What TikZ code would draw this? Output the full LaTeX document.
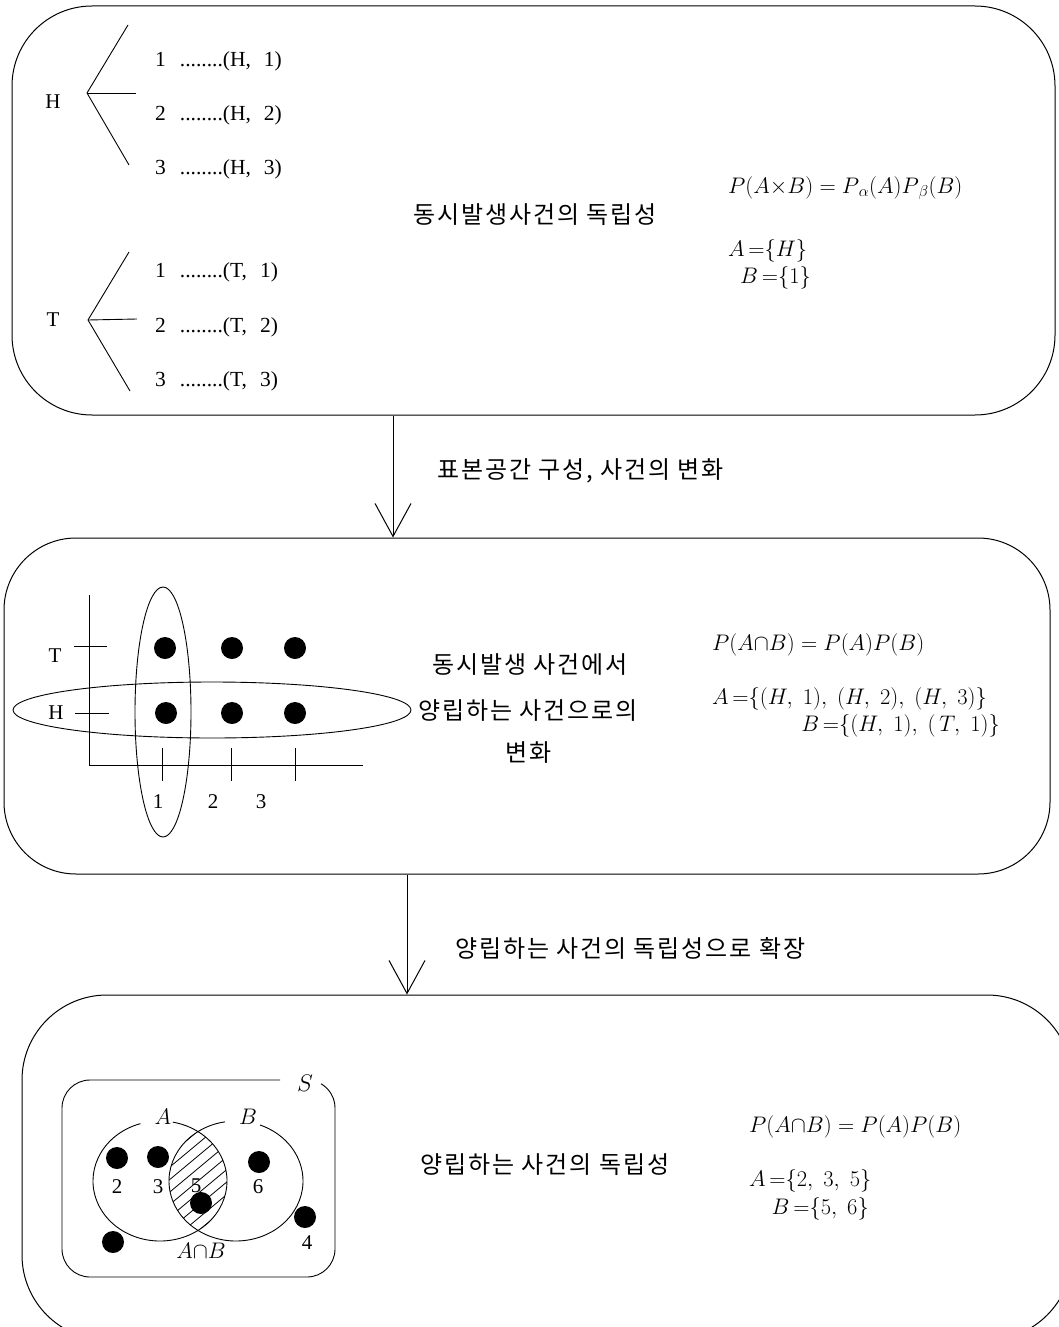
\documentclass[tikz,border=0pt]{standalone}
\usepackage{fix-cm}
\usepackage{fontspec}
\setmainfont{Liberation Serif}
\newfontfamily\kr[LetterSpace=8]{Noto Sans CJK KR}
\usetikzlibrary{arrows.meta}
\begin{document}
\begin{tikzpicture}[x=1pt,y=1pt,
  every node/.style={font=\fontsize{20}{24}\selectfont, inner sep=0pt},
  ko/.style={font=\kr\fontsize{24}{29}\selectfont},
  mth/.style={font=\fontsize{22.5}{26}\selectfont},
  lbl/.style={font=\fontsize{21}{25}\selectfont},
  tree/.style={font=\fontsize{21.5}{25}\selectfont},
  panel/.style={draw, line width=1pt},
  ln/.style={line width=0.9pt},
  arr/.style={line width=1pt, -{Straight Barb[length=33pt,width=36pt,line width=1pt]}}]
\useasboundingbox (0,0) rectangle (1059,-1327);

% ---------- panels ----------
\node[panel, minimum width=1043pt, minimum height=409pt, rounded corners=80pt] (box1) at (533.5,-210.5) {};
\node[panel, minimum width=1046pt, minimum height=336pt, rounded corners=72pt] (box2) at (527,-706) {};
\node[panel, minimum width=1050pt, minimum height=345pt, rounded corners=85pt] (box3) at (547,-1167.5) {};

% ---------- arrows ----------
\coordinate (ax1) at (393,0);
\coordinate (ax2) at (407,0);
\draw[arr] (box1.south -| ax1) -- (box2.north -| ax1);
\draw[arr] (box2.south -| ax2) -- (box3.north -| ax2);
\node[ko, anchor=west] (lab1) at (437,-471) {표본공간 구성, 사건의 변화};
\node[ko, anchor=west] (lab2) at (455,-948) {양립하는 사건의 독립성으로 확장};

% ---------- panel 1 ----------
\node[lbl] (H1) at (53,-102) {H};
\node[lbl] (T1) at (53,-320) {T};
\coordinate (hv) at (87,-93);
\coordinate (h1) at (128,-25);
\coordinate (h2) at (136,-93);
\coordinate (h3) at (129,-165);
\coordinate (tv) at (88,-320);
\coordinate (t1) at (129,-252);
\coordinate (t2) at (137,-319);
\coordinate (t3) at (130,-391);
\draw[ln] (hv) -- (h1); \draw[ln] (hv) -- (h2); \draw[ln] (hv) -- (h3);
\draw[ln] (tv) -- (t1); \draw[ln] (tv) -- (t2); \draw[ln] (tv) -- (t3);
\foreach \n/\y/\c in {1/61/H,2/115/H,3/169/H,1/272/T,2/327/T,3/381/T}{
  \node[tree, anchor=west] (o\c\n) at (155,-\y) {\n\hspace{14pt}........(\c,\hspace{13pt}\n)};
}
\node[ko] (k1) at (535,-215) {동시발생사건의 독립성};
\node[mth, anchor=west] (f1) at (728,-188) {$P(A{\times}B)=P_{\,\alpha}(A)P_{\,\beta}(B)$};
\node[mth, anchor=west] (f1a) at (728,-251) {$A\,{=}\{H\}$};
\node[mth, anchor=west] (f1b) at (740,-278) {$B\,{=}\{1\}$};

% ---------- panel 2 ----------
\coordinate (org) at (89,-765);
\draw[ln] (89,-595) -- (org) -- (363,-765);
\draw[ln] (74,-646) -- (107,-646);
\draw[ln] (75,-713) -- (109,-713);
\foreach \x in {162,231,295} \draw[ln] (\x,-748) -- (\x,-781);
\node[lbl] (aT) at (55,-656) {T};
\node[lbl] (aH) at (56,-713) {H};
\node[lbl] (n1) at (158,-802) {1};
\node[lbl] (n2) at (213,-802) {2};
\node[lbl] (n3) at (261,-802) {3};
\foreach \x in {165,232,295} \fill (\x,-648) circle (11);
\foreach \x in {166,232,295} \fill (\x,-713) circle (11);
\draw[ln] (163,-712) ellipse [x radius=28, y radius=125];
\draw[ln] (212,-710) ellipse [x radius=199, y radius=28];
\node[ko] (k2a) at (530,-665) {동시발생 사건에서};
\node[ko] (k2b) at (528,-711) {양립하는 사건으로의};
\node[ko] (k2c) at (529,-753) {변화};
\node[mth, anchor=west] (f2) at (712,-645) {$P(A{\cap}B)=P(A)P(B)$};
\node[mth, anchor=west] (f2a) at (712,-699) {$A\,{=}\{(H,\;1),\;(H,\;2),\;(H,\;3)\}$};
\node[mth, anchor=east] (f2b) at (1000,-726) {$B\,{=}\{(H,\;1),\;(\,T,\;1)\}$};

% ---------- panel 3 ----------
\draw[ln] (280,-1080) -- (90,-1080) arc[start angle=90,end angle=180,radius=28]
  -- (62,-1249) arc[start angle=180,end angle=270,radius=28]
  -- (307,-1277) arc[start angle=270,end angle=360,radius=28]
  -- (335,-1108) arc[start angle=0,end angle=60,radius=28];
\node[font=\fontsize{24}{28}\selectfont] (S) at (305,-1083) {$S$};
\begin{scope}
  \clip (160,-1181) ellipse [x radius=67, y radius=60];
  \clip (236,-1181) ellipse [x radius=67, y radius=60];
  \foreach \i in {-8,...,8} \draw[line width=0.8pt] (198+15*\i-90,-1181-75) -- ++(180,150);
\end{scope}
\draw[ln] (160,-1181) ++(107:67 and 60) arc[start angle=107,end angle=439,x radius=67,y radius=60];
\draw[ln] (236,-1181) ++(99.5:67 and 60) arc[start angle=99.5,end angle=429,x radius=67,y radius=60];
\node[mth] (vA) at (163,-1117) {$A$};
\node[mth] (vB) at (248,-1117) {$B$};
\foreach \x/\y in {117/1158,158/1157,201/1203,259/1162,305/1217,113/1242} \fill (\x,-\y) circle (11);
\node[lbl] (v2) at (117,-1187) {2};
\node[lbl] (v3) at (158,-1187) {3};
\node[lbl] (v5) at (196,-1186) {5};
\node[lbl] (v6) at (258,-1187) {6};
\node[lbl] (v4) at (307,-1243) {4};
\node[mth] (vAB) at (201,-1251) {$A{\cap}B$};
\node[ko] (k3) at (545,-1165) {양립하는 사건의 독립성};
\node[mth, anchor=west] (f3) at (749,-1127) {$P(A{\cap}B)=P(A)P(B)$};
\node[mth, anchor=west] (f3a) at (749,-1181) {$A\,{=}\{2,\;3,\;5\}$};
\node[mth, anchor=east] (f3b) at (869,-1209) {$B\,{=}\{5,\;6\}$};
\end{tikzpicture}
\end{document}
